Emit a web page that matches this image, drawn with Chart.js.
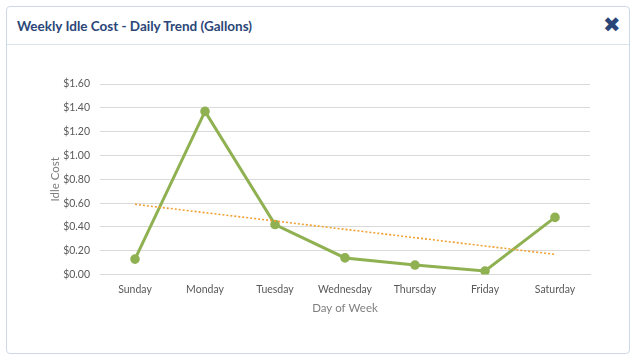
<!DOCTYPE html>
<html><head><meta charset="utf-8">
<script src="https://cdn.jsdelivr.net/npm/chart.js@4"></script>
<style>
html,body{margin:0;padding:0;background:#fff;width:636px;height:360px;overflow:hidden;}
#panel{position:absolute;left:6px;top:6px;width:622px;height:346px;border:1px solid #cdd9e5;border-radius:4px;background:#fff;}
#hdr{position:absolute;left:0;top:0;width:622px;height:37px;border-bottom:1px solid #dbe3eb;}
#title{position:absolute;left:10px;top:11px;font-family:Lato,"Open Sans",sans-serif;font-weight:bold;font-size:13.5px;color:#2a4677;}
#close{position:absolute;left:596px;top:7px;font-family:"DejaVu Sans",sans-serif;font-size:21px;color:#2a4677;line-height:22px;}
#wrap{position:absolute;left:0;top:38px;width:622px;height:308px;}
</style></head><body>
<div id="panel">
  <div id="hdr"><div id="title">Weekly Idle Cost - Daily Trend (Gallons)</div><div id="close">✖</div></div>
  <div id="wrap"><canvas id="c" width="622" height="308"></canvas></div>
</div>
<script>
const days = ["Sunday","Monday","Tuesday","Wednesday","Thursday","Friday","Saturday"];
const idleCost = [0.13, 1.37, 0.42, 0.14, 0.08, 0.03, 0.48];
const trendLine = [0.59, null, null, null, null, null, 0.17];
const yTicks = [0, 0.2, 0.4, 0.6, 0.8, 1.0, 1.2, 1.4, 1.6];

const font = "Lato, 'Open Sans', sans-serif";
new Chart(document.getElementById('c'), {
  type: 'line',
  data: {
    labels: days,
    datasets: [
      {label:'Idle Cost', data: idleCost, borderColor:'#8fb152', backgroundColor:'#8fb152',
       borderWidth:3, pointRadius:3.3, pointHoverRadius:3.3, tension:0, order:2},
      {label:'Trend', data: trendLine, borderColor:'#f0a030', borderWidth:1.6, borderDash:[2,2],
       pointRadius:0, spanGaps:true, tension:0, order:1}
    ]
  },
  options: {
    responsive:false, animation:false,
    layout:{padding:{left:0,right:39,top:39,bottom:32}},
    plugins:{legend:{display:false}, tooltip:{enabled:false}},
    scales:{
      x:{
        offset:true,
        grid:{display:false, drawTicks:false, offset:true},
        border:{display:true, color:'#d9d9d9'},
        ticks:{padding:9, color:'#595959', font:{family:font, size:10.5}},
        title:{display:true, text:'Day of Week', color:'#7f7f7f', font:{family:font, size:11.5}, padding:{top:-4,bottom:6}}
      },
      y:{
        min:0, max:1.6,
        afterBuildTicks: s => { s.ticks = yTicks.map(v => ({value:v})); },
        afterFit: s => { s.width = 93; },
        grid:{color:'#d9d9d9', drawTicks:false},
        border:{display:false},
        ticks:{padding:10, color:'#595959', font:{family:font, size:10.5},
               callback: v => '$' + Number(v).toFixed(2)},
        title:{display:true, text:'Idle Cost', color:'#7f7f7f', font:{family:font, size:11.5}, padding:{top:41,bottom:4}}
      }
    }
  }
});
</script>
</body></html>
